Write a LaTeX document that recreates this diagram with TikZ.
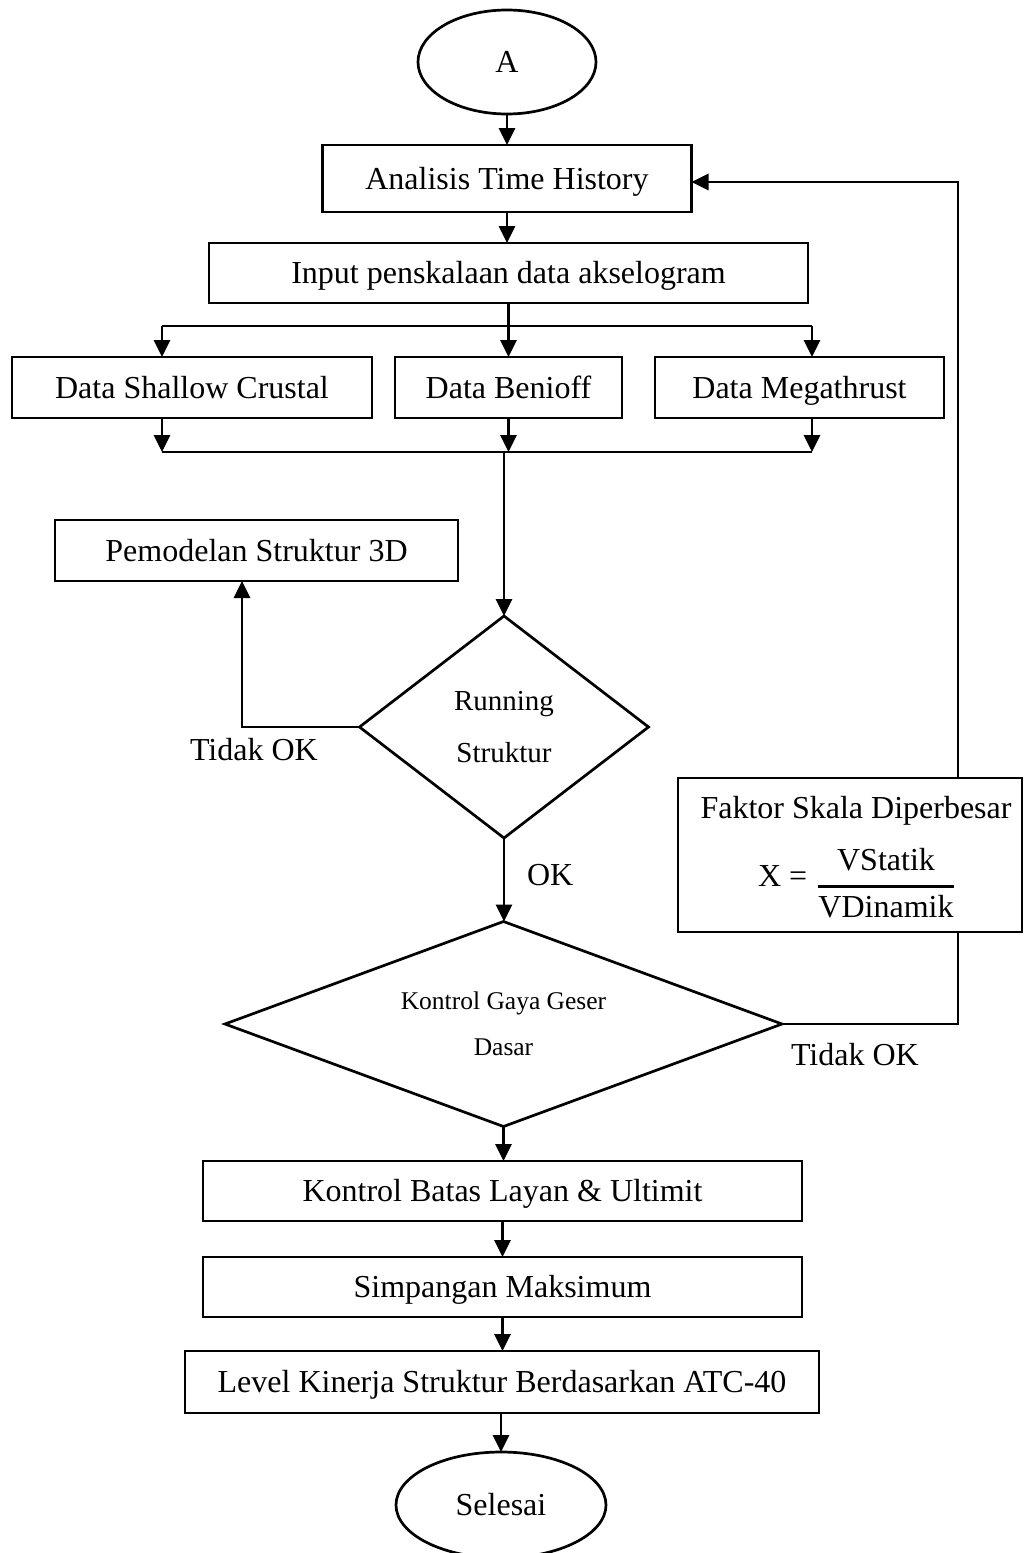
\documentclass[tikz,border=0pt]{standalone}
\usepackage{fontspec}
\setmainfont{Liberation Serif}
\usetikzlibrary{shapes.geometric,arrows.meta}
\begin{document}
\begin{tikzpicture}[x=1pt,y=-1pt,
  every node/.style={inner sep=0pt, outer sep=0pt},
  txt/.style={font=\fontsize{32}{38}\selectfont},
  bo/.style={text height=2*#1 pt, text depth=0pt},
  proc/.style={draw, line width=2.7pt, rectangle, txt, bo=10.5},
  term/.style={draw, line width=2.7pt, ellipse, txt, bo=10.5},
  dec/.style={draw, line width=2.7pt, diamond, align=center},
  ln/.style={line width=2.7pt},
  arr/.style={line width=2.7pt, -{Triangle[length=17pt,width=16pt]}}]
\path[use as bounding box, clip] (0,0) rectangle (1025,1553);
\fill[white] (0,0) rectangle (1025,1553);

% nodes
\node[term, minimum width=178, minimum height=104] (A) at (507,62) {A};
\node[proc, minimum width=369, minimum height=67] (ana) at (507,178.5) {Analisis Time History};
\node[proc, minimum width=599, minimum height=60] (inp) at (508.5,273) {Input penskalaan data akselogram};
\node[proc, minimum width=360, minimum height=61] (sha) at (192,387.5) {Data Shallow Crustal};
\node[proc, minimum width=227, minimum height=61] (ben) at (508.5,387.5) {Data Benioff};
\node[proc, minimum width=289, minimum height=61] (meg) at (799.5,387.5) {Data Megathrust};
\node[proc, minimum width=403, minimum height=61] (pem) at (256.5,550.5) {Pemodelan Struktur 3D};
\node[dec, minimum width=289, minimum height=222, shape aspect=1.3,
      font=\fontsize{29}{52}\selectfont] (run) at (504,727) {Running\\Struktur};
\node[dec, minimum width=557, minimum height=205, shape aspect=2.72,
      font=\fontsize{25.5}{46}\selectfont] (kon) at (503.5,1024) {Kontrol Gaya Geser\\Dasar};
\node[draw, line width=2.7pt, rectangle, minimum width=344, minimum height=154] (fak) at (850,855) {};
\node[txt, anchor=base] (fakt) at (856,818) {Faktor Skala Diperbesar};
\node[txt, anchor=base west] (fx) at (758,886) {X =};
\node[txt, anchor=base] (fnum) at (886,870) {VStatik};
\node[txt, anchor=base] (fden) at (886,917) {VDinamik};
\draw[line width=3pt] (818,886) coordinate (fb1) -- (954,886) coordinate (fb2);
\node[proc, minimum width=599, minimum height=60] (kb) at (502.5,1191) {Kontrol Batas Layan \& Ultimit};
\node[proc, minimum width=599, minimum height=60] (simp) at (502.5,1287) {Simpangan Maksimum};
\node[proc, minimum width=634, minimum height=62] (lev) at (502,1382) {Level Kinerja Struktur Berdasarkan ATC-40};
\node[term, minimum width=210, minimum height=106] (sel) at (501,1505) {Selesai};

% labels
\node[txt, anchor=base west] (tok1) at (190,760) {Tidak OK};
\node[txt, anchor=base west] (ok) at (527,885) {OK};
\node[txt, anchor=base west] (tok2) at (791,1065) {Tidak OK};

% helper coordinates
\coordinate (bl) at (162,326);
\coordinate (br) at (812,326);
\coordinate (ml) at (162,452);
\coordinate (mr) at (812,452);
\coordinate (mm) at (504,452);
\coordinate (tl) at (242,727);
\coordinate (r1) at (958,1024);
\coordinate (r2) at (958,182);

% connectors
\draw[arr] (A) -- (ana);
\draw[arr] (ana.south) -- (ana.south |- inp.north);
\draw[arr] (inp.south) -- (inp.south |- ben.north);
\draw[ln] (bl) -- (br);
\draw[arr] (bl) -- (bl |- sha.north);
\draw[arr] (br) -- (br |- meg.north);
\draw[arr] (sha.south -| bl) -- (ml);
\draw[arr] (ben.south) -- (ben.south |- mm);
\draw[arr] (meg.south -| mr) -- (mr);
\draw[ln] (ml) -- (mr);
\draw[arr] (mm) -- (run.north);
\draw[arr] (run.west) -- (tl) -- (tl |- pem.south);
\draw[arr] (run.south) -- (run.south |- kon.north);
\draw[ln] (kon.east) -- (r1) -- (r1 |- fak.south);
\draw[arr] (r1 |- fak.north) -- (r2) -- (r2 -| ana.east);
\draw[arr] (kon.south) -- (kon.south |- kb.north);
\draw[arr] (kb.south) -- (kb.south |- simp.north);
\draw[arr] (simp.south) -- (simp.south |- lev.north);
\draw[arr] (lev.south -| sel.north) -- (sel.north);
\end{tikzpicture}
\end{document}
